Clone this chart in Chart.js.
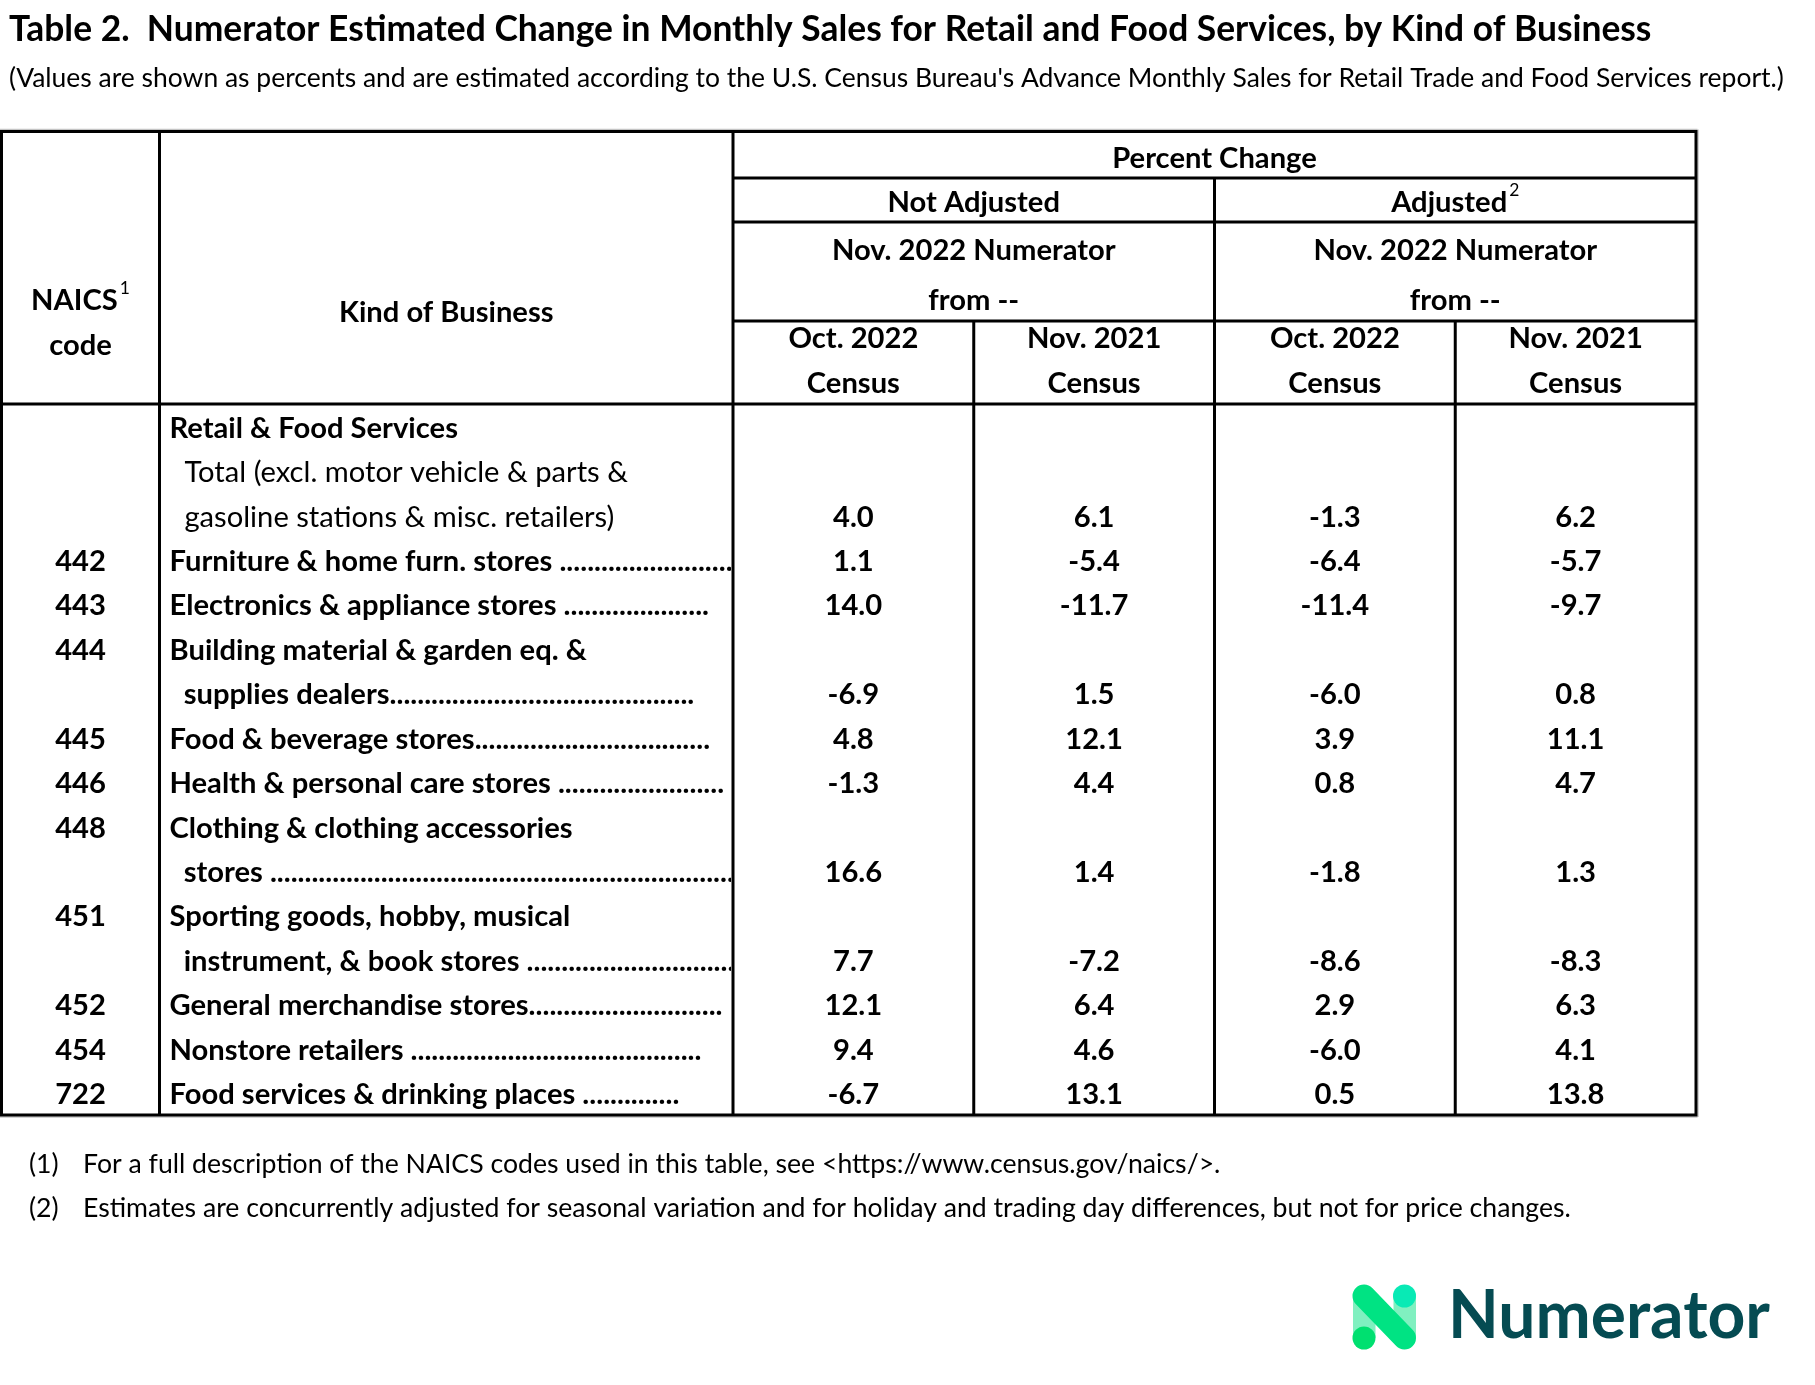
<!DOCTYPE html>
<html>
<head>
<meta charset="utf-8">
<script src="https://cdn.jsdelivr.net/npm/chart.js@4.4.0/dist/chart.umd.min.js"></script>
<style>
  html, body { margin: 0; padding: 0; background: #fff; }
  canvas { display: block; }
</style>
</head>
<body>
<canvas id="tabla" width="1815" height="1385"></canvas>
<script>
// textos
const titulo = 'Table 2.  Numerator Estimated Change in Monthly Sales for Retail and Food Services, by Kind of Business';
const subtitulo = "(Values are shown as percents and are estimated according to the U.S. Census Bureau's Advance Monthly Sales for Retail Trade and Food Services report.)";
const seccion = 'Retail & Food Services';

// filas
const naicsCodes = ['', '442', '443', '444', '445', '446', '448', '451', '452', '454', '722'];
const businessLabels = [
  ['  Total (excl. motor vehicle & parts &', '  gasoline stations & misc. retailers)'],
  ['Furniture & home furn. stores ..................................'],
  ['Electronics & appliance stores .....................'],
  ['Building material & garden eq. &', '  supplies dealers............................................'],
  ['Food & beverage stores..................................'],
  ['Health & personal care stores ........................'],
  ['Clothing & clothing accessories', '  stores ................................................................................'],
  ['Sporting goods, hobby, musical', '  instrument, & book stores ....................................'],
  ['General merchandise stores............................'],
  ['Nonstore retailers ..........................................'],
  ['Food services & drinking places ..............']
];

// columnas
const columnGroups = ['Not Adjusted', 'Adjusted'];
const columnPeriods = ['Oct. 2022', 'Nov. 2021', 'Oct. 2022', 'Nov. 2021'];

// valores (%)
const notAdjOct = [4.0, 1.1, 14.0, -6.9, 4.8, -1.3, 16.6, 7.7, 12.1, 9.4, -6.7];
const notAdjNov = [6.1, -5.4, -11.7, 1.5, 12.1, 4.4, 1.4, -7.2, 6.4, 4.6, 13.1];
const adjOct = [-1.3, -6.4, -11.4, -6.0, 3.9, 0.8, -1.8, -8.6, 2.9, -6.0, 0.5];
const adjNov = [6.2, -5.7, -9.7, 0.8, 11.1, 4.7, 1.3, -8.3, 6.3, 4.1, 13.8];

const footnotes = [
  ['(1)', 'For a full description of the NAICS codes used in this table, see <https://www.census.gov/naics/>.'],
  ['(2)', 'Estimates are concurrently adjusted for seasonal variation and for holiday and trading day differences, but not for price changes.']
];

// linea de cada fila (la linea 0 es "Retail & Food Services")
let linea = 1;
const filas = businessLabels.map(lines => {
  const f = { first: linea, last: linea + lines.length - 1 };
  linea += lines.length;
  return f;
});
const totalLineas = linea;

// tamaños de letra ajustados al ancho del original
const FUENTE = 'Lato';
function ajustar(texto, peso, ancho) {
  const c = document.createElement('canvas').getContext('2d');
  c.font = `${peso} 100px ${FUENTE}`;
  return 100 * ancho / c.measureText(texto).width;
}
const sz = {
  title: ajustar(titulo, 'bold', 1643),
  sub: ajustar(subtitulo, 'normal', 1776),
  body: ajustar('Furniture & home furn. stores', 'bold', 383),
  nota: ajustar(footnotes[1][1], 'normal', 1489),
  logo: ajustar('Numerator', 'bold', 322)
};

function conSuper(ctx, texto, sup, cx, cy) {
  ctx.font = `bold ${sz.body}px ${FUENTE}`;
  const w1 = ctx.measureText(texto).width;
  ctx.font = `normal ${sz.body * 0.6}px ${FUENTE}`;
  const w2 = ctx.measureText(sup).width;
  const x0 = cx - (w1 + w2 + 2) / 2;
  ctx.textAlign = 'left';
  ctx.font = `bold ${sz.body}px ${FUENTE}`;
  ctx.fillText(texto, x0, cy);
  ctx.font = `normal ${sz.body * 0.6}px ${FUENTE}`;
  ctx.fillText(sup, x0 + w1 + 2, cy - sz.body * 0.42);
}

function linea2(ctx, x1, y1, x2, y2) {
  ctx.beginPath();
  ctx.moveTo(x1, y1);
  ctx.lineTo(x2, y2);
  ctx.stroke();
}

const tablaPlugin = {
  id: 'tabla',
  beforeDraw(chart) {
    const ctx = chart.ctx;
    ctx.save();
    ctx.fillStyle = '#fff';
    ctx.fillRect(0, 0, chart.width, chart.height);
    ctx.restore();
  },
  afterDraw(chart) {
    const ctx = chart.ctx;
    const xs = chart.scales.x;
    const ys = chart.scales.y;
    const area = chart.chartArea;
    const izq = 1.5, arriba = 131.5, colCodigo = 159.5;
    const yPct = 178, yGrupo = 222, yDesde = 321;
    const ajusteY = 2; // centro visual del texto
    const yFila = l => ys.getPixelForValue(l) + ajusteY;

    ctx.save();
    ctx.fillStyle = '#000';

    // titulo
    ctx.textBaseline = 'alphabetic';
    ctx.textAlign = 'left';
    ctx.font = `bold ${sz.title}px ${FUENTE}`;
    ctx.fillText(titulo, 9, 41);
    ctx.font = `normal ${sz.sub}px ${FUENTE}`;
    ctx.fillText(subtitulo, 9, 87);

    // cabecera
    ctx.textBaseline = 'middle';
    ctx.textAlign = 'center';
    ctx.font = `bold ${sz.body}px ${FUENTE}`;
    ctx.fillText('Percent Change', xs.getPixelForValue(1.5), 159);
    ctx.fillText(columnGroups[0], xs.getPixelForValue(0.5), 203);
    conSuper(ctx, columnGroups[1], '2', xs.getPixelForValue(2.5), 203);
    ctx.textAlign = 'center';
    ctx.font = `bold ${sz.body}px ${FUENTE}`;
    [0.5, 2.5].forEach(v => {
      ctx.fillText('Nov. 2022 Numerator', xs.getPixelForValue(v), 251);
      ctx.fillText('from --', xs.getPixelForValue(v), 301);
    });
    columnPeriods.forEach((p, i) => {
      ctx.fillText(p, xs.getPixelForValue(i), 339);
      ctx.fillText('Census', xs.getPixelForValue(i), 384);
    });
    conSuper(ctx, 'NAICS', '1', (izq + colCodigo) / 2, 301);
    ctx.textAlign = 'center';
    ctx.font = `bold ${sz.body}px ${FUENTE}`;
    ctx.fillText('code', (izq + colCodigo) / 2, 346);
    ctx.fillText('Kind of Business', (colCodigo + area.left) / 2, 313);

    // codigos
    naicsCodes.forEach((c, i) => {
      if (c) ctx.fillText(c, (izq + colCodigo) / 2, yFila(filas[i].first));
    });

    // valores, en la posicion de cada punto
    chart.data.datasets.forEach((ds, d) => {
      const meta = chart.getDatasetMeta(d);
      meta.data.forEach((pt, j) => {
        ctx.fillText(ds.data[j].v.toFixed(1), pt.x, pt.y + ajusteY);
      });
    });

    // tipo de negocio
    ctx.save();
    ctx.beginPath();
    ctx.rect(colCodigo + 2, area.top, area.left - colCodigo - 4, area.bottom - area.top);
    ctx.clip();
    ctx.textAlign = 'left';
    const xTexto = colCodigo + 10;
    ctx.font = `bold ${sz.body}px ${FUENTE}`;
    ctx.fillText(seccion, xTexto, yFila(0));
    businessLabels.forEach((lines, i) => {
      ctx.font = `${naicsCodes[i] ? 'bold' : 'normal'} ${sz.body}px ${FUENTE}`;
      lines.forEach((t, k) => ctx.fillText(t, xTexto, yFila(filas[i].first + k)));
    });
    ctx.restore();

    // lineas
    ctx.strokeStyle = '#c4c4c4';
    ctx.lineWidth = 1.5;
    linea2(ctx, 0, arriba - 2, area.right + 1.5, arriba - 2);
    linea2(ctx, 0, area.bottom + 2, area.right + 1.5, area.bottom + 2);
    linea2(ctx, area.right + 2, arriba - 2, area.right + 2, area.bottom + 2);
    ctx.strokeStyle = '#000';
    ctx.lineWidth = 3;
    ctx.strokeRect(izq, arriba, area.right - izq, area.bottom - arriba);
    linea2(ctx, colCodigo, arriba, colCodigo, area.bottom);
    linea2(ctx, area.left, arriba, area.left, area.bottom);
    linea2(ctx, xs.getPixelForValue(1.5), yPct, xs.getPixelForValue(1.5), area.bottom);
    linea2(ctx, xs.getPixelForValue(0.5), yDesde, xs.getPixelForValue(0.5), area.bottom);
    linea2(ctx, xs.getPixelForValue(2.5), yDesde, xs.getPixelForValue(2.5), area.bottom);
    [yPct, yGrupo, yDesde].forEach(y => linea2(ctx, area.left, y, area.right, y));
    linea2(ctx, izq, area.top, area.right, area.top);

    // notas
    ctx.fillStyle = '#000';
    ctx.textAlign = 'left';
    ctx.textBaseline = 'middle';
    ctx.font = `normal ${sz.nota}px ${FUENTE}`;
    footnotes.forEach((n, i) => {
      ctx.fillText(n[0], 29, 1164 + i * 44);
      ctx.fillText(n[1], 83, 1164 + i * 44);
    });

    // logo
    ctx.fillStyle = '#80f0c0';
    ctx.fillRect(1353, 1296, 22.5, 42);
    ctx.fillRect(1393.5, 1296, 22.5, 42);
    ctx.strokeStyle = '#00e383';
    ctx.lineWidth = 23;
    ctx.lineCap = 'round';
    linea2(ctx, 1364, 1296, 1404.5, 1338);
    ctx.fillStyle = '#08eab5';
    ctx.beginPath(); ctx.arc(1404.5, 1296, 11.5, 0, Math.PI * 2); ctx.fill();
    ctx.fillStyle = '#00e070';
    ctx.beginPath(); ctx.arc(1364, 1338, 11.5, 0, Math.PI * 2); ctx.fill();
    ctx.fillStyle = '#054b52';
    ctx.textBaseline = 'alphabetic';
    ctx.font = `bold ${sz.logo}px ${FUENTE}`;
    ctx.fillText('Numerator', 1448, 1338);

    ctx.restore();
  }
};

const series = [notAdjOct, notAdjNov, adjOct, adjNov];

new Chart(document.getElementById('tabla'), {
  type: 'scatter',
  data: {
    datasets: series.map((serie, col) => ({
      label: columnPeriods[col],
      data: serie.map((v, i) => ({ x: col, y: filas[i].last, v: v })),
      pointRadius: 0,
      pointHoverRadius: 0
    }))
  },
  options: {
    responsive: false,
    animation: false,
    events: [],
    layout: { padding: { left: 733, right: 1815 - 1696, top: 404, bottom: 1385 - 1115 } },
    scales: {
      x: { type: 'linear', min: -0.5, max: series.length - 0.5, display: false },
      y: { type: 'linear', min: -0.5, max: totalLineas - 0.5, reverse: true, display: false }
    },
    plugins: {
      legend: { display: false },
      tooltip: { enabled: false }
    }
  },
  plugins: [tablaPlugin]
});
</script>
</body>
</html>
